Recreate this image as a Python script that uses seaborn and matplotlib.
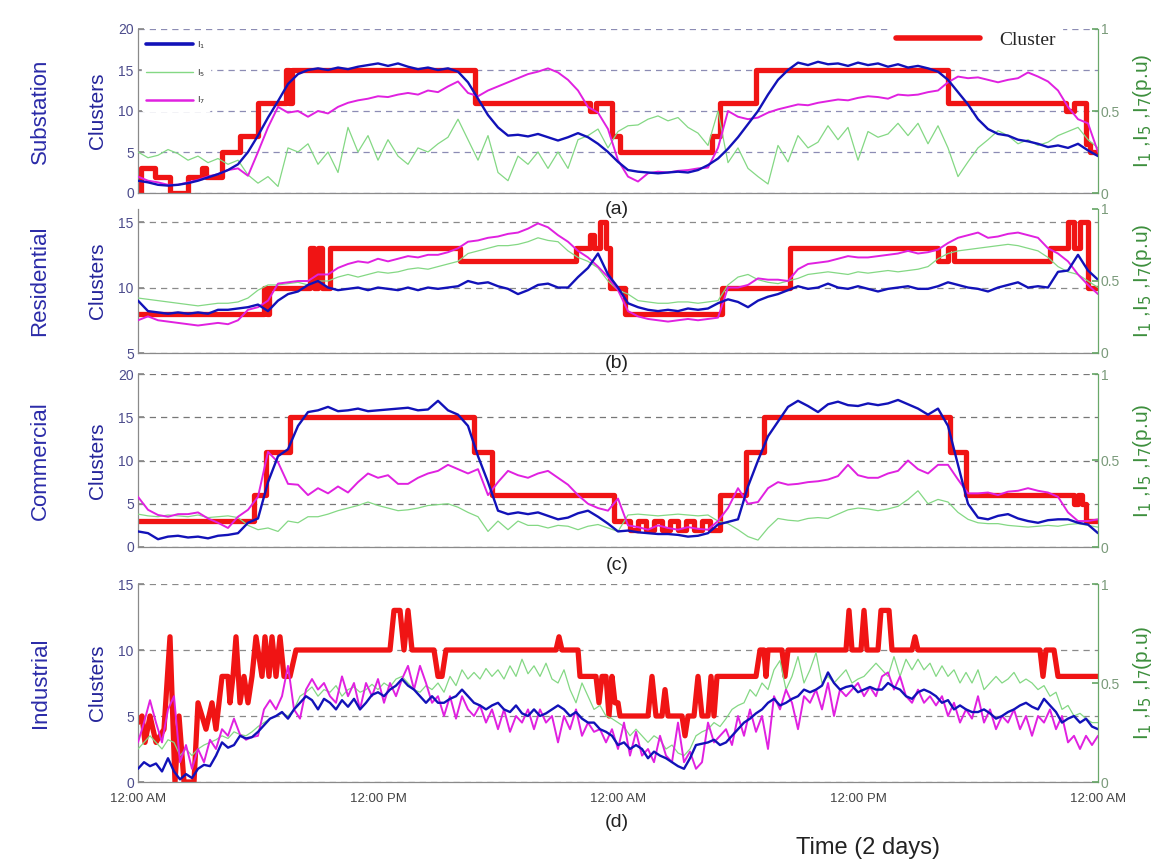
import numpy as np
import matplotlib
matplotlib.use("Agg")
import matplotlib.pyplot as plt
import seaborn as sns
from matplotlib.lines import Line2D

# time axis (hours over 2 days)
hour_ticks = [0, 12, 24, 36, 48]
hour_labels = ['12:00 AM', '12:00 PM', '12:00 AM', '12:00 PM', '12:00 AM']
t_half = np.linspace(0, 48, 97)    # every 30 min
t_fine = np.linspace(0, 48, 161)   # every 18 min (industrial)

# harmonic currents are read against the Clusters scale of each panel
# ---- (a) Substation
a_i1 = [1.5, 1.3, 1.0, 0.9, 1.0, 1.2, 1.5, 1.9, 2.3, 2.8,
        3.5, 5.0, 7.0, 9.2, 11.2, 13.3, 14.5, 15.0, 15.2, 15.0,
        15.3, 15.1, 15.4, 15.6, 15.8, 15.5, 15.8, 15.4, 15.1, 15.3,
        15.0, 15.2, 14.8, 13.5, 11.5, 9.5, 8.0, 7.0, 7.1, 6.9,
        7.2, 6.8, 6.4, 6.8, 7.3, 6.8, 6.0, 5.0, 3.8, 2.8,
        2.6, 2.5, 2.4, 2.5, 2.6, 2.5, 2.8, 3.4, 4.2, 5.4,
        6.8, 8.4, 10.0, 12.0, 13.8, 15.0, 15.9, 15.6, 16.0, 15.7,
        15.8, 15.5, 15.9, 15.6, 15.8, 15.4, 15.7, 15.3, 15.5, 15.2,
        14.8, 13.8, 12.3, 10.8, 9.0, 7.8, 7.2, 7.0, 6.5, 6.3,
        6.0, 5.6, 5.8, 5.5, 6.0, 5.2, 4.5]
a_i5 = [5.0, 4.3, 4.6, 5.3, 4.8, 4.0, 4.5, 3.7, 4.2, 3.5,
        4.0, 2.2, 1.2, 2.0, 0.8, 5.5, 5.0, 6.0, 3.5, 5.0,
        2.5, 8.0, 5.0, 7.0, 4.0, 6.5, 4.5, 3.5, 5.5, 5.0,
        6.0, 6.8, 9.0, 6.5, 4.0, 7.0, 2.5, 1.5, 4.5, 3.5,
        5.0, 3.0, 5.0, 3.0, 6.5, 7.0, 7.8, 5.5, 7.5, 8.2,
        8.3, 9.0, 9.4, 8.8, 9.2, 8.0, 7.3, 5.8, 10.0, 3.7,
        5.5, 3.0, 2.0, 1.1, 5.8, 3.8, 7.0, 5.5, 6.2, 8.2,
        6.5, 8.0, 4.0, 7.5, 6.8, 7.2, 8.5, 7.0, 8.5, 6.0,
        8.2, 5.5, 2.0, 3.8, 5.5, 6.5, 7.6, 7.0, 6.0, 6.5,
        5.8, 6.2, 7.0, 7.5, 8.0, 6.5, 5.5]
a_i7 = [2.0, 1.5, 1.3, 1.0, 1.0, 1.3, 1.6, 2.0, 2.3, 2.8,
        3.0, 2.1, 5.0, 8.0, 10.5, 9.8, 10.0, 9.3, 10.0, 9.7,
        10.5, 11.0, 11.3, 11.5, 11.8, 11.7, 12.0, 12.2, 12.0, 12.5,
        12.3, 13.0, 13.6, 12.2, 11.8, 12.5, 13.0, 13.5, 14.0, 14.5,
        14.8, 15.2, 14.7, 13.8, 12.5, 10.5, 9.8, 7.8, 4.0, 2.0,
        1.4, 2.4, 2.6, 2.5, 2.7, 2.8, 3.0, 3.1, 5.5, 10.0,
        9.3, 9.0, 9.2, 9.8, 10.2, 10.5, 10.8, 10.7, 11.0, 11.2,
        11.4, 11.3, 11.6, 11.8, 11.7, 11.5, 12.0, 11.9, 12.0, 12.3,
        12.5, 13.5, 14.2, 14.0, 14.1, 13.8, 13.5, 13.8, 14.0, 14.7,
        14.2, 13.6, 12.5, 10.5, 9.0, 8.5, 5.0]
a_cl_t = [0, 0.15, 0.85, 1.6, 2.5, 3.2, 3.4, 4.2, 5.1, 6.0,
          7.4, 7.55, 7.7, 16.85, 22.6, 22.9, 23.7, 24.1, 28.7, 29.1,
          30.9, 40.5, 46.4, 46.8, 47.4, 47.6, 48]
a_cl_v = [0, 3, 2, 0, 2, 3, 2, 5, 7, 11,
          15, 11, 15, 11, 10, 11, 7, 5, 7, 11,
          15, 11, 10, 11, 6, 5, 5]

# ---- (b) Residential
b_i1 = [9.0, 8.2, 8.1, 8.0, 8.1, 8.0, 8.1, 8.0, 8.3, 8.3,
        8.4, 8.5, 8.7, 8.2, 9.0, 9.5, 9.7, 10.2, 10.5, 10.0,
        9.8, 9.9, 10.0, 9.8, 10.0, 9.9, 9.8, 10.0, 9.8, 10.0,
        9.9, 10.0, 10.1, 10.5, 10.3, 10.4, 10.1, 9.9, 9.5, 9.8,
        10.2, 10.3, 10.0, 10.0, 10.8, 11.5, 12.6, 11.0, 10.0, 8.8,
        8.5, 8.3, 8.2, 8.3, 8.2, 8.4, 8.3, 8.4, 8.8, 9.1,
        8.9, 8.5, 9.0, 9.3, 9.5, 9.8, 10.1, 9.9, 10.0, 10.3,
        10.0, 9.9, 10.1, 9.9, 9.7, 9.9, 10.0, 10.1, 9.9, 9.9,
        10.1, 10.4, 10.2, 10.0, 9.9, 9.7, 10.0, 10.2, 10.4, 10.0,
        10.1, 10.0, 11.2, 11.3, 12.5, 11.3, 10.6]
b_i5 = [9.2, 9.1, 9.0, 8.9, 8.8, 8.7, 8.6, 8.7, 8.8, 8.8,
        8.9, 9.2, 9.8, 10.2, 10.2, 10.3, 10.4, 10.2, 10.5, 10.5,
        10.8, 11.0, 10.8, 11.0, 11.2, 11.1, 11.2, 11.4, 11.5, 11.4,
        11.6, 11.8, 12.0, 12.6, 12.8, 13.0, 13.2, 13.2, 13.3, 13.5,
        13.8, 13.6, 13.5, 12.8, 12.3, 12.0, 11.5, 10.5, 9.8, 9.5,
        9.0, 8.9, 8.8, 8.8, 8.9, 8.9, 8.8, 8.9, 9.0, 10.2,
        10.8, 11.0, 10.6, 10.4, 10.3, 10.5, 10.7, 11.0, 11.1, 11.2,
        11.1, 11.0, 11.2, 11.1, 11.2, 11.3, 11.2, 11.3, 11.4, 11.6,
        12.2, 12.6, 12.8, 12.9, 13.0, 13.1, 13.2, 13.3, 13.2, 13.0,
        12.8, 12.3, 11.6, 11.2, 11.0, 10.5, 10.0]
b_i7 = [7.5, 7.8, 7.5, 7.4, 7.3, 7.2, 7.1, 7.2, 7.3, 7.2,
        7.5, 8.3, 8.5, 9.0, 10.3, 10.4, 10.5, 10.5, 11.0, 11.0,
        11.5, 11.8, 12.0, 11.9, 12.2, 12.0, 12.2, 12.4, 12.3, 12.5,
        12.5, 12.7, 13.0, 13.5, 13.6, 13.8, 13.9, 14.1, 14.2, 14.5,
        14.9, 14.6, 14.0, 13.5, 12.8, 12.3, 11.6, 10.8, 9.8, 8.2,
        7.8, 7.6, 7.5, 7.4, 7.5, 7.6, 7.5, 7.6, 7.7, 10.0,
        10.0, 10.2, 10.7, 10.6, 10.6, 10.5, 11.4, 11.8, 11.9, 12.0,
        12.2, 12.4, 12.3, 12.3, 12.4, 12.5, 12.6, 12.8, 12.6, 12.7,
        12.9, 13.4, 13.8, 14.0, 14.2, 13.8, 13.9, 14.1, 14.2, 14.0,
        13.8, 13.0, 12.6, 12.0, 11.0, 10.2, 9.5]
b_cl_t = [0, 6.3, 6.45, 6.55, 8.6, 8.8, 9.0, 9.2, 9.6, 16.1,
          21.9, 22.6, 22.8, 23.1, 23.4, 23.6, 24.35, 29.2, 32.6, 40.0,
          40.5, 40.8, 45.6, 46.5, 46.8, 47.1, 47.5, 48]
b_cl_v = [8, 10, 8, 10, 13, 10, 13, 10, 13, 12,
          13, 14, 13, 15, 13, 10, 8, 10, 13, 12,
          13, 12, 13, 15, 13, 15, 10, 10]

# ---- (c) Commercial
c_i1 = [1.8, 1.6, 0.9, 1.2, 1.3, 1.1, 1.2, 1.0, 1.3, 1.4,
        1.6, 2.8, 3.3, 7.5, 10.5, 11.3, 14.0, 15.6, 15.8, 16.2,
        15.7, 15.8, 16.0, 15.7, 15.8, 15.9, 16.0, 16.1, 15.8, 15.9,
        16.9, 15.8, 15.3, 14.0, 10.5, 7.5, 4.2, 3.8, 4.0, 3.8,
        4.0, 3.6, 3.2, 3.4, 3.9, 4.2, 3.5, 2.7, 1.8, 1.9,
        1.7, 1.6, 1.5, 1.5, 1.4, 1.2, 1.3, 1.6, 2.6, 2.9,
        3.2, 7.0, 10.0, 12.8, 14.5, 16.2, 16.9, 16.3, 15.6, 16.5,
        16.8, 16.4, 16.3, 16.6, 16.4, 16.6, 17.0, 16.5, 16.0, 15.3,
        16.0, 14.0, 9.5, 5.0, 3.4, 3.2, 3.6, 3.8, 3.3, 3.0,
        2.8, 3.1, 3.2, 3.2, 2.8, 2.6, 1.6]
c_i5 = [3.8, 3.6, 3.5, 3.7, 3.6, 3.5, 3.7, 3.4, 3.5, 3.6,
        3.4, 2.5, 2.0, 2.2, 1.8, 3.0, 2.8, 3.5, 3.5, 3.8,
        4.2, 4.5, 4.8, 5.2, 4.8, 4.5, 4.2, 4.3, 4.5, 4.8,
        4.9, 5.0, 4.6, 4.0, 3.5, 1.8, 3.0, 2.0, 3.0, 2.5,
        2.5, 2.2, 2.5, 2.4, 2.0, 2.4, 2.6, 2.2, 1.8, 3.7,
        3.8, 3.7, 3.6, 3.7, 3.8, 3.7, 3.6, 3.7, 3.0, 2.7,
        2.0, 1.2, 0.8, 2.2, 3.3, 3.1, 3.0, 3.3, 3.4, 3.3,
        3.8, 4.3, 4.5, 4.4, 4.2, 4.4, 4.7, 5.5, 6.5, 5.0,
        5.5, 5.2, 4.0, 3.2, 2.8, 2.7, 2.7, 2.5, 2.4, 2.3,
        2.4, 2.5, 2.4, 2.6, 2.7, 2.5, 2.3]
c_i7 = [5.8, 4.3, 3.7, 3.5, 3.8, 3.8, 4.0, 3.3, 2.8, 2.2,
        3.5, 4.3, 5.8, 11.0, 9.8, 7.3, 7.2, 6.0, 6.8, 6.2,
        7.0, 6.3, 7.5, 8.5, 8.0, 8.3, 7.3, 7.3, 8.0, 8.5,
        8.8, 9.5, 9.0, 8.5, 9.0, 6.0, 7.5, 8.8, 8.3, 8.0,
        8.5, 8.8, 8.0, 7.2, 6.0, 5.0, 4.5, 4.2, 5.6, 2.5,
        2.3, 2.0, 2.5, 2.2, 2.0, 2.3, 2.1, 2.0, 3.0, 4.5,
        6.8, 5.0, 5.2, 6.8, 7.5, 7.2, 7.3, 7.5, 7.6, 7.8,
        8.2, 9.5, 8.3, 8.0, 8.0, 8.5, 8.8, 10.0, 9.0, 8.5,
        9.5, 9.5, 7.8, 6.2, 6.2, 6.3, 6.0, 6.4, 6.5, 6.8,
        6.5, 6.3, 5.8, 4.0, 3.0, 3.0, 3.2]
c_cl_t = [0, 5.8, 6.4, 7.6, 16.8, 17.7, 23.8, 24.6, 25.0, 25.4,
          25.8, 26.2, 26.6, 27.0, 27.4, 27.8, 28.2, 28.6, 29.1, 30.4,
          31.3, 40.6, 41.4, 46.8, 47.0, 47.2, 47.4, 48]
c_cl_v = [3, 6, 11, 15, 11, 6, 3, 2, 3, 2,
          3, 2, 3, 2, 3, 2, 3, 2, 6, 11,
          15, 11, 6, 5, 6, 5, 3, 3]

# ---- (d) Industrial
d_i1 = [1.0, 1.5, 1.2, 1.4, 0.8, 1.8, 0.8, 0.2, 0.6, 0.3,
        1.0, 1.3, 1.2, 2.0, 3.0, 2.6, 2.8, 3.5, 3.3, 3.4,
        3.8, 4.3, 4.8, 5.0, 5.3, 4.8, 5.5, 6.0, 6.5, 6.2,
        5.5, 6.3, 6.0, 5.5, 6.2, 5.7, 6.3, 5.5, 6.0, 6.6,
        6.8, 6.5, 7.0, 7.3, 7.8, 7.3, 7.0, 6.5, 6.0, 6.5,
        6.0, 6.0, 6.3, 6.5, 7.0, 6.5, 6.0, 5.8, 5.5, 5.8,
        6.0, 5.5, 5.3, 5.8, 5.2, 5.0, 5.5, 5.0, 5.2, 5.5,
        5.8, 5.5, 5.0, 5.3, 4.8, 4.5, 4.5, 4.0, 3.8, 3.5,
        2.8, 3.0, 2.5, 2.8, 2.5, 1.8, 2.3, 2.0, 1.8, 1.5,
        1.2, 1.0, 1.8, 2.8, 2.9, 3.0, 3.2, 2.8, 3.0, 3.5,
        4.0, 4.5, 4.8, 5.2, 5.5, 6.0, 6.3, 5.8, 6.0, 6.3,
        6.5, 7.0, 6.8, 7.0, 7.3, 8.3, 7.5, 7.0, 7.2, 7.3,
        6.8, 7.0, 7.2, 7.0, 7.0, 7.5, 7.2, 7.0, 6.5, 6.3,
        6.8, 7.0, 6.8, 6.5, 6.0, 6.2, 5.5, 5.8, 5.5, 5.3,
        5.3, 5.5, 5.2, 4.8, 5.0, 5.3, 5.5, 5.8, 6.0, 5.7,
        5.5, 6.3, 5.8, 5.3, 4.5, 4.8, 5.0, 4.5, 4.8, 4.2,
        4.0]
d_i5 = [2.5, 3.0, 3.5, 3.0, 2.5, 3.2, 3.0, 2.0, 2.5, 2.0,
        2.5, 2.8, 3.0, 3.2, 3.5, 3.3, 3.8, 3.6, 3.5, 3.8,
        4.2, 4.5, 4.8, 5.0, 5.2, 5.0, 5.5, 6.5, 6.8, 7.2,
        6.5, 7.0, 6.8, 7.3, 6.5, 7.0, 7.2, 6.8, 7.0, 7.4,
        7.0, 7.5, 7.2, 7.8, 8.0, 7.5, 7.0, 6.8, 7.3, 7.0,
        7.5, 6.8, 8.0, 7.3, 8.5, 7.8, 8.3, 7.8, 8.6, 8.0,
        8.5, 7.8, 8.8, 8.0, 9.3, 8.2, 8.8, 8.0, 9.0, 7.8,
        7.5, 8.5, 7.0, 6.0, 7.5, 6.5, 5.5, 5.8, 5.0, 4.8,
        4.5, 4.2, 3.5, 4.0, 3.5, 3.0, 3.5, 3.2, 2.5, 2.8,
        2.2, 2.0, 2.5, 3.5, 3.8, 4.0, 4.5, 4.2, 4.8, 5.5,
        5.8, 6.0, 7.0, 6.5, 7.5, 7.0, 8.5, 9.2, 7.0, 8.0,
        9.5, 7.5, 8.5, 9.8, 7.5, 8.0, 7.5, 8.0, 8.5, 7.5,
        7.8, 8.0, 8.5, 9.0, 8.5, 8.0, 9.5, 8.0, 9.3, 8.5,
        9.3, 8.5, 9.0, 8.0, 8.8, 8.0, 8.5, 7.5, 8.3, 7.5,
        8.5, 7.0, 7.5, 8.0, 7.5, 7.8, 8.3, 7.5, 7.8, 7.5,
        7.0, 7.3, 6.5, 6.8, 5.5, 5.8, 5.0, 5.2, 4.8, 4.5,
        4.5]
d_i7 = [3.0, 4.5, 6.2, 4.5, 3.0, 5.5, 6.5, 1.5, 2.8, 1.0,
        2.5, 1.5, 3.2, 2.5, 4.0, 3.5, 4.8, 3.6, 3.2, 3.4,
        3.5, 5.5, 6.2, 5.5, 6.5, 8.8, 5.5, 4.8, 7.0, 7.8,
        7.0, 7.5, 6.5, 6.0, 8.0, 6.5, 7.5, 5.5, 7.5, 6.5,
        7.8, 6.0, 7.5, 6.5, 7.8, 8.8, 7.0, 8.8, 7.5, 6.0,
        6.5, 5.0, 6.5, 4.8, 6.5, 5.5, 5.0, 5.8, 4.5, 5.5,
        4.0, 5.5, 3.8, 5.0, 4.5, 5.5, 4.0, 5.5, 4.5, 5.0,
        3.0, 5.0, 4.0, 5.5, 3.5, 4.5, 3.8, 4.0, 3.0, 4.0,
        2.5, 4.5, 2.0, 3.8, 2.0, 2.5, 1.5, 3.5, 2.0, 1.5,
        4.5, 1.5, 2.3, 1.0, 1.5, 4.5, 3.0, 3.5, 4.0, 2.8,
        5.0, 3.5, 5.5, 3.8, 5.0, 2.5, 6.5, 5.5, 7.0, 6.0,
        4.0, 6.5, 6.0, 7.0, 5.5, 7.5, 5.0, 7.0, 6.5, 7.0,
        7.5, 6.5, 7.2, 6.5, 8.0, 8.3, 7.0, 8.0, 6.5, 6.0,
        7.0, 6.0, 6.5, 5.8, 6.5, 5.0, 6.0, 4.5, 5.5, 4.8,
        6.5, 4.5, 5.5, 4.0, 5.0, 4.5, 5.5, 4.0, 5.0, 3.5,
        5.0, 4.5, 5.5, 4.0, 5.0, 3.0, 3.5, 2.5, 3.5, 2.8,
        3.5]
d_cl_t = [0, 0.2, 0.35, 0.6, 0.9, 1.3, 1.6, 1.85, 2.05, 2.3,
          2.8, 3.0, 3.4, 3.7, 3.9, 4.2, 4.5, 4.6, 4.75, 4.9,
          5.1, 5.3, 5.5, 5.7, 5.9, 6.2, 6.35, 6.55, 6.7, 6.9,
          7.1, 7.3, 7.6, 7.9, 12.6, 12.8, 13.1, 13.3, 13.5, 13.7,
          14.8, 15.0, 15.2, 15.4, 20.9, 21.05, 21.2, 22.0, 22.1, 22.9,
          23.05, 23.2, 23.4, 23.55, 23.7, 23.85, 24.0, 24.1, 25.5, 25.7,
          25.9, 26.2, 26.35, 26.5, 27.2, 27.35, 27.5, 27.8, 28.0, 28.2,
          28.5, 28.65, 28.8, 28.95, 29.3, 30.9, 31.1, 31.3, 31.4, 31.5,
          32.2, 32.35, 32.5, 35.4, 35.55, 35.7, 36.15, 36.3, 36.45, 37.0,
          37.15, 37.55, 37.7, 38.7, 38.85, 39.0, 45.1, 45.25, 45.4, 45.8,
          46.0, 48]
d_cl_v = [4.5, 5, 3, 5, 3, 4, 11, 0, 5, 0,
          0, 6, 4, 6, 4, 8, 8, 6, 8, 11,
          6, 8, 6, 8, 11, 8, 11, 8, 11, 8,
          11, 8, 8, 10, 10, 13, 13, 10, 13, 10,
          10, 8, 8, 10, 10, 11, 10, 10, 8, 8,
          6, 8, 8, 5, 8, 6, 6, 5, 5, 8,
          5, 5, 7, 5, 5, 3.5, 5, 5, 8, 5,
          5, 8, 5, 8, 8, 8, 10, 10, 8, 10,
          10, 8, 10, 10, 13, 10, 10, 13, 10, 10,
          13, 13, 10, 10, 11, 10, 10, 8, 10, 10,
          8, 8]

BLUE = '#1212b8'
GREEN = '#84d884'
MAGENTA = '#e021e0'
RED = '#f01414'
W, H = 1173, 863


def fx(x):
    return x / W


def fy(y):
    return 1 - y / H


def draw_panel(ax, t, i1, i5, i7, cl_t, cl_v, ylim, yticks, grid_col, steps=True):
    for v in yticks:
        ax.axhline(v, color=grid_col, lw=0.9, dashes=(5, 4), zorder=0.5)
    sns.lineplot(x=cl_t, y=cl_v, ax=ax, color=RED, linewidth=3.8, estimator=None, sort=False,
                 drawstyle='steps-post' if steps else 'default', legend=False, zorder=2)
    sns.lineplot(x=t, y=i5, ax=ax, color=GREEN, linewidth=0.9, estimator=None, legend=False, zorder=3)
    sns.lineplot(x=t, y=i7, ax=ax, color=MAGENTA, linewidth=1.4, estimator=None, legend=False, zorder=4)
    sns.lineplot(x=t, y=i1, ax=ax, color=BLUE, linewidth=1.7, estimator=None, legend=False, zorder=5)
    ax.set_xlim(0, 48)
    ax.set_ylim(*ylim)
    ax.set_yticks(yticks)
    ax.set_xticks(hour_ticks)
    ax.set_xlabel('')
    ax.set_ylabel('')
    for s in ['top', 'right']:
        ax.spines[s].set_visible(False)
    for s in ['left', 'bottom']:
        ax.spines[s].set_color('#8a8a8a')
        ax.spines[s].set_linewidth(0.9)
    ax.tick_params(axis='y', direction='in', length=4, colors='#8a8a8a', labelcolor='#4c4c8c',
                   labelsize=10, pad=3)
    ax.tick_params(axis='x', direction='in', length=5, colors='#555555', labelsize=9.5, pad=8)
    ax.set_facecolor('white')

    ax2 = ax.twinx()
    ax2.set_ylim(0, 1)
    ax2.set_yticks([0, 0.5, 1])
    ax2.set_yticklabels(['0', '0.5', '1'])
    for s in ['top', 'left', 'bottom']:
        ax2.spines[s].set_visible(False)
    ax2.spines['right'].set_color('#6aa86a')
    ax2.spines['right'].set_linewidth(0.9)
    ax2.tick_params(axis='y', direction='in', length=4, colors='#6aa86a', labelcolor='#7a9a7a',
                    labelsize=10, pad=2)
    ax2.grid(False)
    return ax2


sns.set_theme(style='white')
plt.rcParams['font.family'] = ['Liberation Sans', 'DejaVu Sans']

fig = plt.figure(figsize=(W / 100, H / 100), dpi=100)
fig.patch.set_facecolor('white')

panels = [
    # name, letter, top px, bottom px, data, ylim, yticks, grid colour, step?, letter y
    ('Substation', '(a)', 29, 193, (t_half, a_i1, a_i5, a_i7, a_cl_t, a_cl_v), (0, 20), [0, 5, 10, 15, 20], '#8c8cb4', True, 210),
    ('Residential', '(b)', 209, 353, (t_half, b_i1, b_i5, b_i7, b_cl_t, b_cl_v), (5, 16), [5, 10, 15], '#8a8a8a', True, 363),
    ('Commercial', '(c)', 374, 547, (t_half, c_i1, c_i5, c_i7, c_cl_t, c_cl_v), (0, 20), [0, 5, 10, 15, 20], '#777777', True, 565),
    ('Industrial', '(d)', 584, 782, (t_fine, d_i1, d_i5, d_i7, d_cl_t, d_cl_v), (0, 15), [0, 5, 10, 15], '#8a8a8a', False, 822),
]

left_px, right_px = 138, 1098
axes = []
for k, (name, letter, top, bot, data, ylim, yt, gc, steps, ly) in enumerate(panels):
    ax = fig.add_axes([fx(left_px), fy(bot), (right_px - left_px) / W, (bot - top) / H])
    ax2 = draw_panel(ax, *data, ylim, yt, gc, steps)
    if k < 3:
        ax.set_xticklabels([])
    else:
        ax.set_xticklabels(hour_labels, color='#444444')
    cy = (top + bot) / 2
    fig.text(fx(40), fy(cy), name, rotation=90, ha='center', va='center', fontsize=16, color='#2b2ba8')
    fig.text(fx(97), fy(cy), 'Clusters', rotation=90, ha='center', va='center', fontsize=15, color='#25259a')
    fig.text(fx(1143), fy(cy), r'I$_1$ ,I$_5$ ,I$_7$(p.u)', rotation=90, ha='center', va='center',
             fontsize=15, color='#3d8f3d')
    fig.text(fx(617), fy(ly), letter, ha='center', va='center', fontsize=14, color='#222222')
    axes.append(ax)

# legends on the substation panel
ax_a = axes[0]
h_i = [Line2D([], [], color=BLUE, lw=2.6), Line2D([], [], color=GREEN, lw=1.0), Line2D([], [], color=MAGENTA, lw=1.8)]
leg1 = ax_a.legend(h_i, [r'I$_1$', r'I$_5$', r'I$_7$'], loc='upper left', bbox_to_anchor=(0.004, 0.965),
                   borderaxespad=0, frameon=True, facecolor='white', edgecolor='white', framealpha=1,
                   fontsize=6.5, handlelength=5.2, labelspacing=1.8, borderpad=0.5, handletextpad=0.4)
leg1.set_zorder(10)
ax_a.add_artist(leg1)
leg2 = ax_a.legend([Line2D([], [], color=RED, lw=4)], ['Cluster'], loc='upper right', bbox_to_anchor=(0.962, 1.02),
                   borderaxespad=0, frameon=True, facecolor='white', edgecolor='white', framealpha=1,
                   prop={'family': 'Liberation Serif', 'size': 14}, handlelength=4.3, handletextpad=1.0,
                   borderpad=0.3)
leg2.set_zorder(10)

fig.text(fx(868), fy(848), 'Time (2 days)', ha='center', va='center', fontsize=17, color='#222222')

plt.savefig('out.png', dpi=100, facecolor='white')
